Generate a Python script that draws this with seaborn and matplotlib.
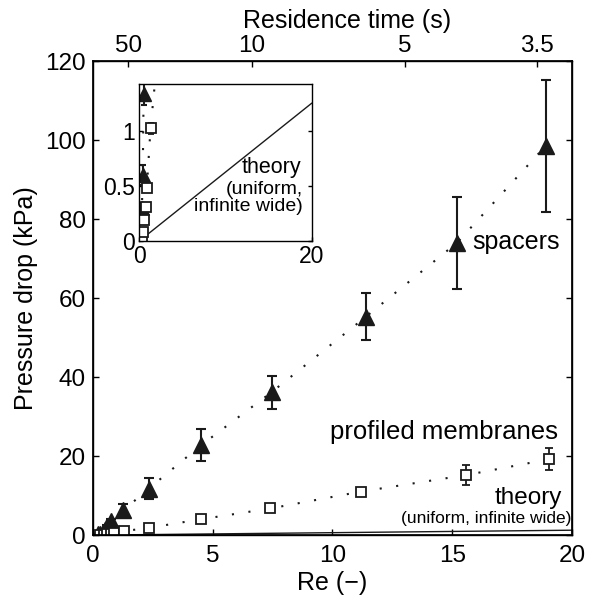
import matplotlib
matplotlib.use("Agg")
import matplotlib.pyplot as plt
import numpy as np
import seaborn as sns

sns.set_theme(style="ticks")
plt.rcParams['font.family'] = ['Liberation Sans', 'DejaVu Sans']
plt.rcParams.update({'text.color': 'black', 'axes.labelcolor': 'black',
                     'xtick.color': 'black', 'ytick.color': 'black',
                     'axes.edgecolor': 'black'})

# spacers (filled triangles)
spacer_re = [0.2, 0.3, 0.4, 0.5, 0.6, 0.75, 1.27, 2.33, 4.52, 7.46, 11.4, 15.2, 18.9]
spacer_dp = [0.22, 0.3, 0.6, 1.33, 2.3, 3.7, 6.3, 11.8, 22.8, 36.2, 55.3, 74.0, 98.5]
spacer_err = [0.03, 0.04, 0.09, 0.1, 0.3, 0.5, 1.6, 2.7, 4.1, 4.2, 6.0, 11.6, 16.7]

# profiled membranes (open squares)
profiled_re = [0.3, 0.45, 0.6, 0.76, 0.87, 1.3, 2.33, 4.49, 7.40, 11.17, 15.58, 19.04]
profiled_dp = [0.0, 0.085, 0.19, 0.31, 0.48, 1.02, 1.85, 4.0, 6.75, 11.0, 15.2, 19.2]
profiled_err = [0.0, 0.0, 0.01, 0.02, 0.03, 0.05, 0.15, 0.3, 0.5, 1.0, 2.6, 2.8]

# theory (uniform, infinite wide)
theory_re = [0, 20]
theory_dp = [0, 1.25]

# residence time axis
res_time_labels = ['50', '10', '5', '3.5']
res_time_re = [1.48, 6.62, 13.03, 18.55]

fig = plt.figure(figsize=(5.89, 6.04), dpi=100)
ax = fig.add_axes([0.158, 0.114, 0.813, 0.785])


def draw(a, ms_tri, ms_sq, cap):
    sns.lineplot(x=spacer_re, y=spacer_dp, ax=a, color='k', lw=1.5, sort=False,
                 estimator=None, dashes=False)
    sns.lineplot(x=profiled_re, y=profiled_dp, ax=a, color='k', lw=1.5, sort=False,
                 estimator=None, dashes=False)
    for ln in a.lines:
        ln.set_dashes((1, 7))
    a.plot(theory_re, theory_dp, color='k', lw=1)
    a.errorbar(spacer_re, spacer_dp, yerr=spacer_err, fmt='^', color='k', mfc='k',
               ms=ms_tri, elinewidth=1.5, capsize=cap, capthick=1.5)
    a.errorbar(profiled_re, profiled_dp, yerr=profiled_err, fmt='s', color='k', mfc='white',
               ms=ms_sq, mew=1.3, elinewidth=1.3, capsize=cap - 0.5, capthick=1.3)


draw(ax, 11, 7.5, 3.5)
ax.set_xlim(0, 20)
ax.set_ylim(0, 120)
ax.set_xticks([0, 5, 10, 15, 20])
ax.set_yticks([0, 20, 40, 60, 80, 100, 120])
ax.tick_params(direction='in', length=4, width=1, right=True, labelsize=17.5, pad=5)
ax.tick_params(axis='x', pad=7)
ax.set_xlabel('Re (\u2212)', fontsize=18, labelpad=3)
ax.set_ylabel('Pressure drop (kPa)', fontsize=18, labelpad=5)
for s in ax.spines.values():
    s.set_linewidth(1)
    s.set_visible(True)

ax.text(15.85, 74.3, 'spacers', fontsize=18, ha='left', va='center')
ax.text(19.4, 26.2, 'profiled membranes', fontsize=18.5, ha='right', va='center')
ax.text(19.6, 9.3, 'theory', fontsize=17.5, ha='right', va='center')
ax.text(19.98, 4.2, '(uniform, infinite wide)', fontsize=12.5, ha='right', va='center')

ax2 = ax.twiny()
ax2.set_xlim(ax.get_xlim())
ax2.set_xticks(res_time_re)
ax2.set_xticklabels(res_time_labels)
ax2.tick_params(direction='in', length=4, width=1, labelsize=17.5, pad=3)
ax2.set_xlabel('Residence time (s)', fontsize=18)
ax2.xaxis.set_label_coords(0.53, 1.07)

# inset
ins = fig.add_axes([0.2365, 0.601, 0.293, 0.2594])
draw(ins, 10, 7, 2.5)
ins.set_xlim(0, 20)
ins.set_ylim(0, 1.42)
ins.set_xticks([0, 20])
ins.set_yticks([0, 0.5, 1])
ins.set_yticklabels(['0', '0.5', '1'])
ins.tick_params(direction='in', length=3, width=1, right=True, labelsize=16.5, pad=3)
for s in ins.spines.values():
    s.set_linewidth(1)
ins.text(18.8, 0.67, 'theory', fontsize=15.5, ha='right', va='center')
ins.text(19.0, 0.39, '(uniform,\ninfinite wide)', fontsize=14, ha='right', va='center',
         multialignment='right', linespacing=1.0)

fig.savefig('out.png', dpi=100)
